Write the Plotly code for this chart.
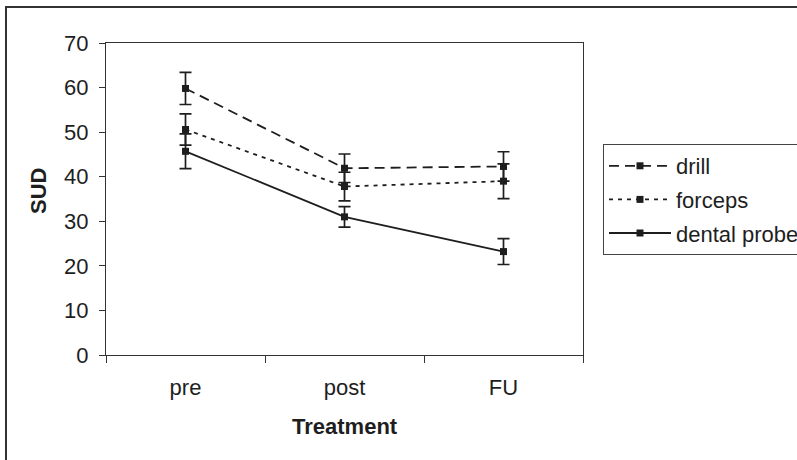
import plotly.graph_objects as go

categories = ["pre", "post", "FU"]
series_names = ["drill", "forceps", "dental probe"]
drill = [59.8, 41.9, 42.3]
drill_err = [3.6, 3.2, 3.3]
forceps = [50.6, 37.8, 39.0]
forceps_err = [3.5, 3.2, 3.9]
dental = [45.7, 31.0, 23.2]
dental_err = [3.9, 2.3, 2.9]
y_ticks = [0, 10, 20, 30, 40, 50, 60, 70]

FONT = "Liberation Sans, Arial, sans-serif"
INK = "#1e1e1e"
FS = 22
dashes = ["10px,6px", "4px,5px", "solid"]
values = [drill, forceps, dental]
errors = [drill_err, forceps_err, dental_err]

fig = go.Figure()
for name, vals, errs, dash in zip(series_names, values, errors, dashes):
    fig.add_trace(go.Scatter(
        x=categories, y=vals, name=name, legendgroup=name,
        mode="lines+markers",
        line=dict(color=INK, width=1.8, dash=dash),
        marker=dict(symbol="square", size=7, color=INK),
        error_y=dict(type="data", array=errs, visible=True,
                     color=INK, thickness=1.7, width=6),
    ))

W, H = 797, 460
L, R, T, B = 106, 583, 43, 355
pw, ph = R - L, B - T

def px_x(px):
    return (px - L) / pw

def px_y(py):
    return (B - py) / ph

fig.update_layout(
    width=W, height=H,
    margin=dict(l=L, r=W - R, t=T, b=H - B, autoexpand=False),
    paper_bgcolor="white", plot_bgcolor="white",
    font=dict(family=FONT, size=FS, color=INK),
    showlegend=True,
    legend=dict(
        x=px_x(603), y=px_y(144), xanchor="left", yanchor="top",
        bordercolor="#444", borderwidth=1, bgcolor="white",
        font=dict(family=FONT, size=FS, color=INK),
        itemwidth=62, tracegroupgap=2,
        entrywidth=150, entrywidthmode="pixels",
    ),
    xaxis=dict(
        type="category", range=[-0.5, 2.5], tickson="boundaries",
        ticks="outside", ticklen=7, tickcolor="#333",
        showline=True, linecolor="#333", linewidth=1, mirror=True,
        showgrid=False, zeroline=False, ticklabelstandoff=13,
    ),
    yaxis=dict(
        range=[0, 70], tickvals=y_ticks, ticks="outside", ticklen=6,
        tickcolor="#333", showline=True, linecolor="#333", linewidth=1,
        mirror=True, showgrid=False, zeroline=False, ticklabelstandoff=6,
    ),
    shapes=[dict(
        type="rect", xref="paper", yref="paper",
        x0=px_x(6), x1=px_x(820), y0=px_y(480), y1=px_y(7),
        line=dict(color="#333", width=2), fillcolor="rgba(0,0,0,0)",
    )],
    annotations=[
        dict(text="<b>Treatment</b>", xref="paper", yref="paper",
             x=0.5, y=px_y(426), xanchor="center", yanchor="middle",
             showarrow=False, font=dict(family=FONT, size=FS, color=INK)),
        dict(text="<b>SUD</b>", xref="paper", yref="paper",
             x=px_x(38), y=px_y(191), xanchor="center", yanchor="middle",
             textangle=-90, showarrow=False,
             font=dict(family=FONT, size=FS, color=INK)),
    ],
)

fig.write_html(
    "out.html",
    config={"displayModeBar": False},
    post_script="document.body.style.margin='0';",
)
